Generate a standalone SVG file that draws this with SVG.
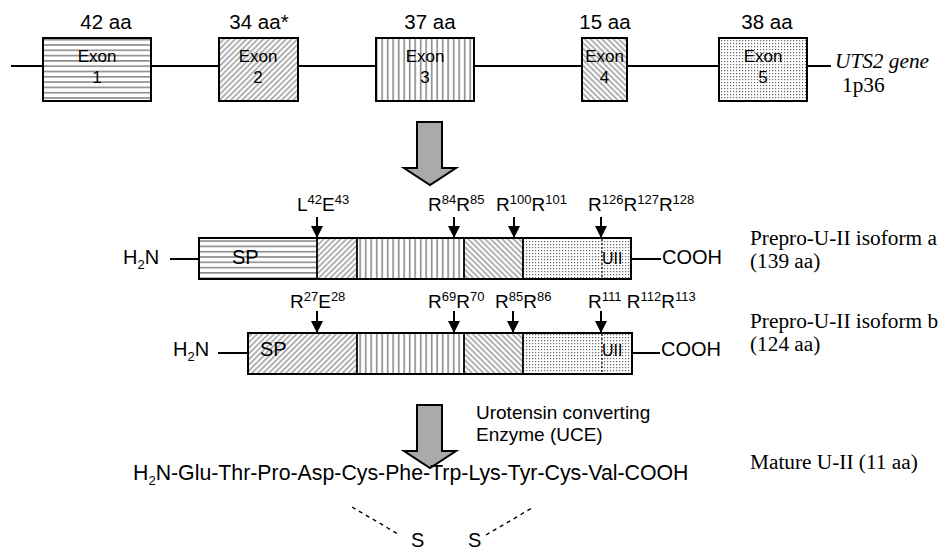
<svg xmlns="http://www.w3.org/2000/svg" width="940" height="552" viewBox="0 0 940 552">
<style>
.sans{font-family:"Liberation Sans",Arial,sans-serif;fill:#000}
.serif{font-family:"Liberation Serif","Times New Roman",serif;fill:#000}
.aa{font-size:20.5px;text-anchor:middle}
.ex{font-size:17px;text-anchor:middle}
.lab{font-size:19px}
.sup{font-size:13px}
.big{font-size:20px}
.pep{font-size:21.3px}
.uii{font-size:16px}
.desc{font-size:21.3px}
.box{stroke:#000;stroke-width:2}
.seg{stroke:#000;stroke-width:1.8}
.line{stroke:#000;stroke-width:2;fill:none}
.dash{stroke:#000;stroke-width:1.4;stroke-dasharray:4,4;fill:none}
.dotline{stroke:#000;stroke-width:1.2;stroke-dasharray:2,2}
.bigarrow{fill:#aaaaaa;stroke:#000;stroke-width:2;stroke-linejoin:miter}
</style>
<defs>
<pattern id="hl" width="6" height="5.3" patternUnits="userSpaceOnUse">
<rect width="6" height="5.3" fill="#fff"/>
<line x1="0" y1="2.6" x2="6" y2="2.6" stroke="#555" stroke-width="1.1"/>
</pattern>
<pattern id="vl" width="5.5" height="6" patternUnits="userSpaceOnUse">
<rect width="5.5" height="6" fill="#fff"/>
<line x1="2.7" y1="0" x2="2.7" y2="6" stroke="#555" stroke-width="1.1"/>
</pattern>
<pattern id="dr" width="4" height="4" patternUnits="userSpaceOnUse" patternTransform="rotate(45)">
<rect width="4" height="4" fill="#fff"/>
<line x1="2" y1="0" x2="2" y2="4" stroke="#666" stroke-width="1"/>
</pattern>
<pattern id="dl" width="4" height="4" patternUnits="userSpaceOnUse" patternTransform="rotate(-45)">
<rect width="4" height="4" fill="#fff"/>
<line x1="2" y1="0" x2="2" y2="4" stroke="#666" stroke-width="1"/>
</pattern>
<pattern id="dt" width="3" height="3" patternUnits="userSpaceOnUse">
<rect width="3" height="3" fill="#fff"/>
<rect x="1" y="1" width="1.2" height="1.2" fill="#666"/>
</pattern>
<marker id="ah" viewBox="0 0 12 12" refX="12" refY="6" markerWidth="12" markerHeight="12" markerUnits="userSpaceOnUse" orient="auto">
<path d="M0,0 L12,6 L0,12 Z" fill="#000"/>
</marker>
</defs>
<rect width="940" height="552" fill="#fff"/>

<g id="connectors">
<line class="line" x1="11" y1="66" x2="831" y2="66"/>
<line class="line" x1="170" y1="259" x2="199" y2="259"/>
<line class="line" x1="631" y1="259" x2="661" y2="259"/>
<line class="line" x1="218" y1="353" x2="248" y2="353"/>
<line class="line" x1="632" y1="353" x2="660" y2="353"/>
<polygon class="bigarrow" points="417,122 442,122 442,168 456,168 430,185 404,168 417,168"/>
<polygon class="bigarrow" points="417,405 442,405 442,451 456,451 430,468 404,451 417,451"/>
<g stroke="#000" stroke-width="2" marker-end="url(#ah)">
<line x1="317" y1="217" x2="317" y2="238"/>
<line x1="454" y1="217" x2="454" y2="238"/>
<line x1="514" y1="217" x2="514" y2="238"/>
<line x1="601" y1="217" x2="601" y2="238"/>
<line x1="317" y1="311" x2="317" y2="333"/>
<line x1="454" y1="311" x2="454" y2="333"/>
<line x1="513" y1="311" x2="513" y2="333"/>
<line x1="601" y1="311" x2="601" y2="333"/>
</g>
<line class="dash" x1="352" y1="507" x2="398" y2="534"/>
<line class="dash" x1="486" y1="535" x2="532" y2="508"/>
</g>

<g id="exon1"><rect class="box" x="43" y="38" width="108" height="63" fill="url(#hl)"/><text class="sans aa" x="106" y="29">42 aa</text><text class="sans ex" x="97" y="62">Exon</text><text class="sans ex" x="97" y="83">1</text></g>
<g id="exon2"><rect class="box" x="219" y="38" width="79" height="63" fill="url(#dr)"/><text class="sans aa" x="259" y="29">34 aa*</text><text class="sans ex" x="258" y="62">Exon</text><text class="sans ex" x="258" y="83">2</text></g>
<g id="exon3"><rect class="box" x="376" y="38" width="98" height="63" fill="url(#vl)"/><text class="sans aa" x="430" y="29">37 aa</text><text class="sans ex" x="425" y="62">Exon</text><text class="sans ex" x="425" y="83">3</text></g>
<g id="exon4"><rect class="box" x="582" y="38" width="45" height="63" fill="url(#dl)"/><text class="sans aa" x="605" y="29">15 aa</text><text class="sans ex" x="604.5" y="62">Exon</text><text class="sans ex" x="604.5" y="83">4</text></g>
<g id="exon5"><rect class="box" x="719" y="38" width="88" height="63" fill="url(#dt)"/><text class="sans aa" x="767" y="29">38 aa</text><text class="sans ex" x="763" y="62">Exon</text><text class="sans ex" x="763" y="83">5</text></g>
<g id="gene-label"><text class="serif desc" x="835" y="68" font-style="italic">UTS2 gene</text><text class="serif desc" x="842" y="92">1p36</text></g>

<g id="isoform-a">
<rect x="199" y="238" width="118" height="41" fill="url(#hl)"/>
<rect x="317" y="238" width="40" height="41" fill="url(#dr)"/>
<rect x="357" y="238" width="107" height="41" fill="url(#vl)"/>
<rect x="464" y="238" width="59" height="41" fill="url(#dl)"/>
<rect x="523" y="238" width="108" height="41" fill="url(#dt)"/>
<g class="seg"><line x1="317" y1="238" x2="317" y2="279"/><line x1="357" y1="238" x2="357" y2="279"/><line x1="464" y1="238" x2="464" y2="279"/><line x1="523" y1="238" x2="523" y2="279"/></g>
<line class="dotline" x1="602" y1="239" x2="602" y2="278"/>
<rect class="box" x="199" y="238" width="432" height="41" fill="none"/>
<text class="sans big" x="123" y="264">H<tspan class="sup" dy="5">2</tspan><tspan dy="-5">N</tspan></text>
<text class="sans big" x="232" y="264">SP</text>
<text class="sans uii" x="602" y="264">UII</text>
<text class="sans big" x="662" y="264">COOH</text>
<text class="sans lab" x="297" y="211">L<tspan class="sup" dy="-7">42</tspan><tspan dy="7">E</tspan><tspan class="sup" dy="-7">43</tspan></text>
<text class="sans lab" x="428" y="211">R<tspan class="sup" dy="-7">84</tspan><tspan dy="7">R</tspan><tspan class="sup" dy="-7">85</tspan></text>
<text class="sans lab" x="496" y="211">R<tspan class="sup" dy="-7">100</tspan><tspan dy="7">R</tspan><tspan class="sup" dy="-7">101</tspan></text>
<text class="sans lab" x="588" y="211">R<tspan class="sup" dy="-7">126</tspan><tspan dy="7">R</tspan><tspan class="sup" dy="-7">127</tspan><tspan dy="7">R</tspan><tspan class="sup" dy="-7">128</tspan></text>
<text class="serif desc" x="750" y="245">Prepro-U-II isoform a</text>
<text class="serif desc" x="750" y="268">(139 aa)</text>
</g>

<g id="isoform-b">
<rect x="248" y="333" width="109" height="41" fill="url(#dr)"/>
<rect x="357" y="333" width="107" height="41" fill="url(#vl)"/>
<rect x="464" y="333" width="59" height="41" fill="url(#dl)"/>
<rect x="523" y="333" width="109" height="41" fill="url(#dt)"/>
<g class="seg"><line x1="357" y1="333" x2="357" y2="374"/><line x1="464" y1="333" x2="464" y2="374"/><line x1="523" y1="333" x2="523" y2="374"/></g>
<line class="dotline" x1="602" y1="334" x2="602" y2="373"/>
<rect class="box" x="248" y="333" width="384" height="41" fill="none"/>
<text class="sans big" x="173" y="356">H<tspan class="sup" dy="5">2</tspan><tspan dy="-5">N</tspan></text>
<text class="sans big" x="260" y="356">SP</text>
<text class="sans uii" x="602" y="356">UII</text>
<text class="sans big" x="661" y="356">COOH</text>
<text class="sans lab" x="290" y="308">R<tspan class="sup" dy="-7">27</tspan><tspan dy="7">E</tspan><tspan class="sup" dy="-7">28</tspan></text>
<text class="sans lab" x="428" y="308">R<tspan class="sup" dy="-7">69</tspan><tspan dy="7">R</tspan><tspan class="sup" dy="-7">70</tspan></text>
<text class="sans lab" x="495" y="308">R<tspan class="sup" dy="-7">85</tspan><tspan dy="7">R</tspan><tspan class="sup" dy="-7">86</tspan></text>
<text class="sans lab" x="588" y="308">R<tspan class="sup" dy="-7">111</tspan><tspan dy="7"> R</tspan><tspan class="sup" dy="-7">112</tspan><tspan dy="7">R</tspan><tspan class="sup" dy="-7">113</tspan></text>
<text class="serif desc" x="750" y="328">Prepro-U-II isoform b</text>
<text class="serif desc" x="750" y="351">(124 aa)</text>
</g>

<g id="enzyme-label">
<text class="sans" font-size="19px" x="476" y="419">Urotensin converting</text>
<text class="sans" font-size="19px" x="476" y="441">Enzyme (UCE)</text>
</g>

<g id="mature-peptide">
<text class="sans pep" x="133" y="480">H<tspan class="sup" dy="5">2</tspan><tspan dy="-5">N-Glu-Thr-Pro-Asp-Cys-Phe-Trp-Lys-Tyr-Cys-Val-COOH</tspan></text>
<text class="serif desc" x="750" y="469">Mature U-II (11 aa)</text>
<text class="sans big" x="411" y="547">S</text>
<text class="sans big" x="468" y="547">S</text>
</g>
</svg>
